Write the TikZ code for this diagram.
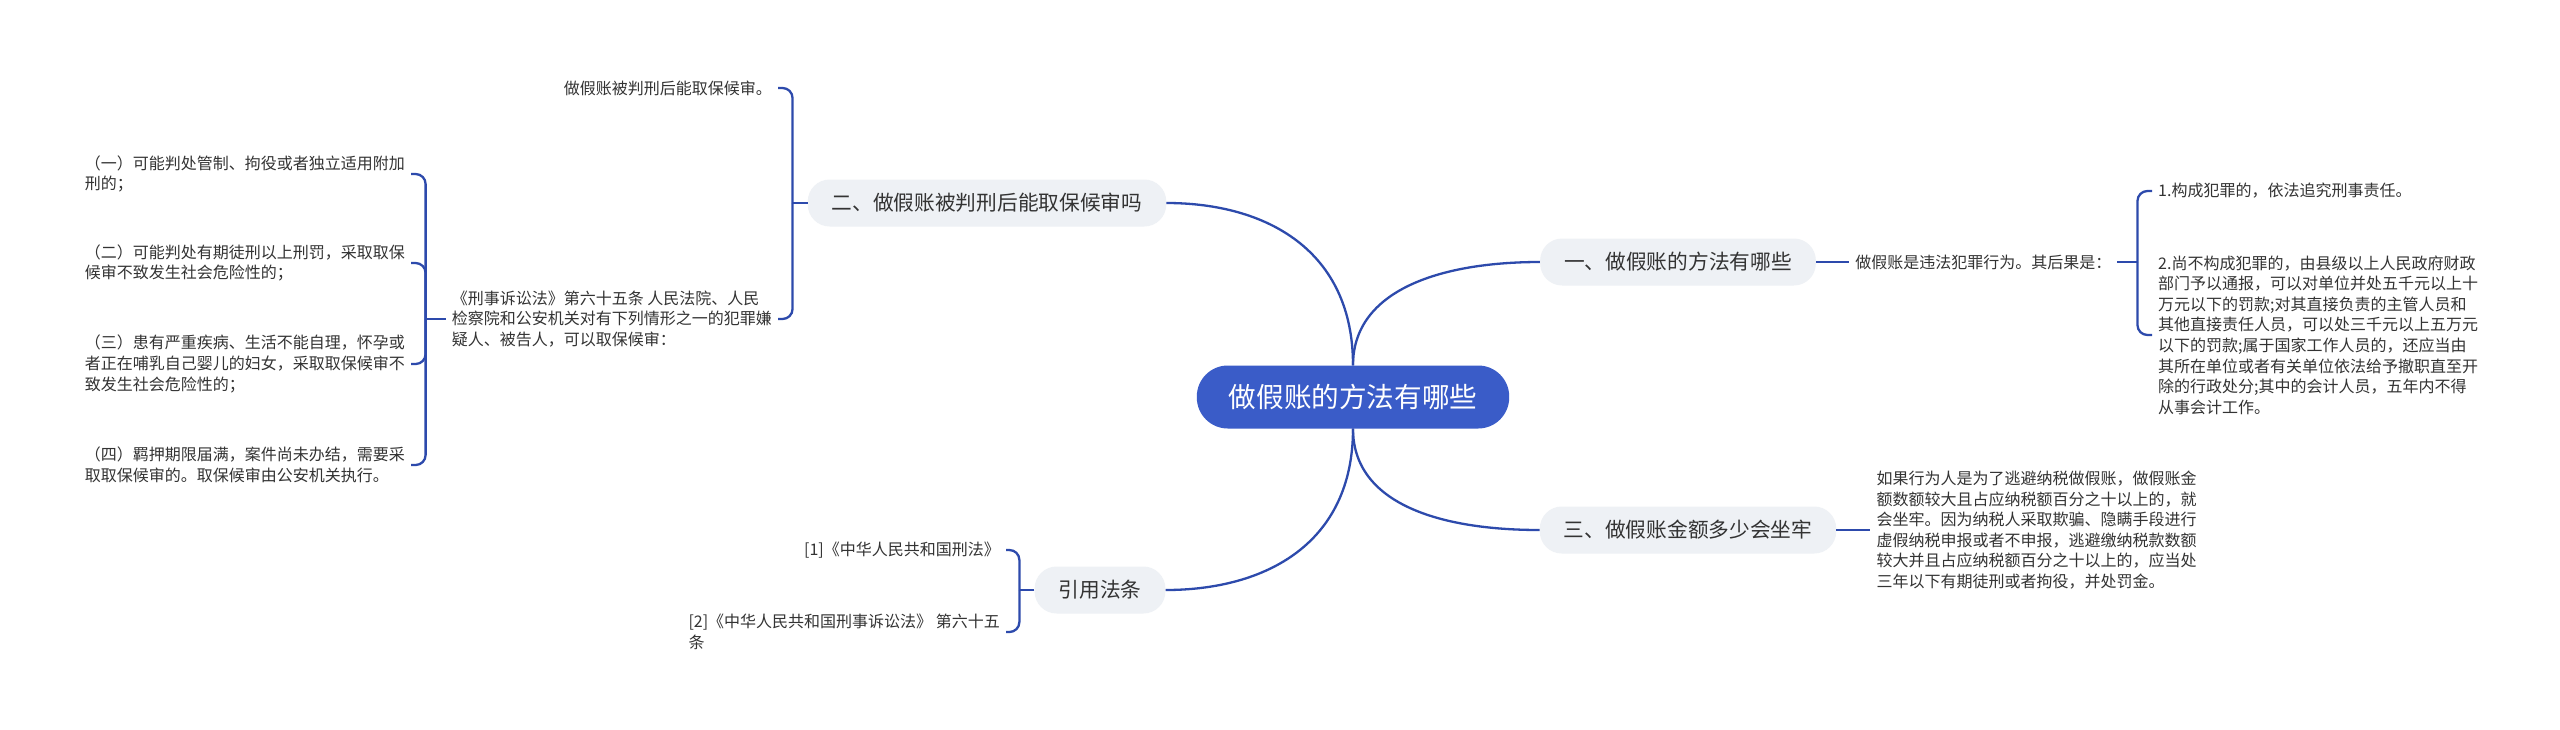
\documentclass[tikz,border=0pt]{standalone}
\usepackage{fontspec}
\usetikzlibrary{positioning}
\newfontfamily\cjk{Noto Sans CJK SC}
\definecolor{rootblue}{RGB}{58,92,200}
\definecolor{linkblue}{RGB}{45,74,172}
\definecolor{branchgray}{RGB}{238,241,245}
\definecolor{textgray}{RGB}{51,51,51}

\begin{document}
\begin{tikzpicture}[
    x=1pt, y=-1pt,
    root/.style={
        fill=rootblue,
        text=white,
        rounded corners=31pt,
        minimum height=63pt,
        inner xsep=32pt,
        font=\cjk\fontsize{27.6}{30}\selectfont
    },
    branch/.style={
        fill=branchgray,
        text=textgray,
        rounded corners=22pt,
        minimum height=47pt,
        inner xsep=24pt,
        font=\cjk\fontsize{20.7}{24}\selectfont
    },
    leaf/.style={
        text=textgray,
        align=left,
        inner xsep=6pt,
        inner ysep=2pt,
        font=\cjk\fontsize{16}{20.6}\selectfont
    },
    link/.style={
        draw=linkblue,
        line width=2.3pt
    },
    bracket/.style={
        link,
        rounded corners=10pt
    }
]

\useasboundingbox[fill=white] (0,0) rectangle (2560,729);

\node[root] (root) at (1353,397) {做假账的方法有哪些};

\node[branch] (b1) at (1678,262) {一、做假账的方法有哪些};
\node[branch] (b2) at (987,203) {二、做假账被判刑后能取保候审吗};
\node[branch] (b3) at (1688,530) {三、做假账金额多少会坐牢};
\node[branch] (b4) at (1100,590) {引用法条};

% branch one
\node[leaf, right=33pt of b1] (s1) {做假账是违法犯罪行为。其后果是：};
\coordinate[right=20pt of s1] (k1);
\node[leaf, anchor=west] (r1) at (2152,191) {1.构成犯罪的，依法追究刑事责任。};
\node[leaf, anchor=west] (r2) at (2152,335) {2.尚不构成犯罪的，由县级以上人民政府财政\\部门予以通报，可以对单位并处五千元以上十\\万元以下的罚款;对其直接负责的主管人员和\\其他直接责任人员，可以处三千元以上五万元\\以下的罚款;属于国家工作人员的，还应当由\\其所在单位或者有关单位依法给予撤职直至开\\除的行政处分;其中的会计人员，五年内不得\\从事会计工作。};

% branch two
\coordinate[left=15pt of b2] (k2);
\node[leaf, anchor=east] (t1) at (778,88) {做假账被判刑后能取保候审。};
\node[leaf, anchor=east] (law) at (778,319) {《刑事诉讼法》第六十五条 人民法院、人民\\检察院和公安机关对有下列情形之一的犯罪嫌\\疑人、被告人，可以取保候审：};
\coordinate[left=20pt of law] (k3);
\node[leaf, anchor=east] (l1) at (411,174) {（一）可能判处管制、拘役或者独立适用附加\\刑的；};
\node[leaf, anchor=east] (l2) at (411,263) {（二）可能判处有期徒刑以上刑罚，采取取保\\候审不致发生社会危险性的；};
\node[leaf, anchor=east] (l3) at (411,364) {（三）患有严重疾病、生活不能自理，怀孕或\\者正在哺乳自己婴儿的妇女，采取取保候审不\\致发生社会危险性的；};
\node[leaf, anchor=east] (l4) at (411,465) {（四）羁押期限届满，案件尚未办结，需要采\\取取保候审的。取保候审由公安机关执行。};

% branch three
\node[leaf, right=34pt of b3] (s3) {如果行为人是为了逃避纳税做假账，做假账金\\额数额较大且占应纳税额百分之十以上的，就\\会坐牢。因为纳税人采取欺骗、隐瞒手段进行\\虚假纳税申报或者不申报，逃避缴纳税款数额\\较大并且占应纳税额百分之十以上的，应当处\\三年以下有期徒刑或者拘役，并处罚金。};

% branch four
\coordinate[left=15pt of b4] (k4);
\node[leaf, anchor=east] (c1) at (1006,550) {[1]《中华人民共和国刑法》};
\node[leaf, anchor=east] (c2) at (1006,632) {[2]《中华人民共和国刑事诉讼法》 第六十五\\条};

\draw[link] (root.north) .. controls +(0,-75) and +(-100,0) .. (b1.west);
\draw[link] (root.north) .. controls +(0,-115) and +(100,0) .. (b2.east);
\draw[link] (root.south) .. controls +(0,75) and +(-100,0) .. (b3.west);
\draw[link] (root.south) .. controls +(0,115) and +(100,0) .. (b4.east);

\draw[link] (b1.east) -- (s1.west);
\draw[link] (s1.east) -- (k1);
\foreach \n in {r1,r2} \draw[bracket] (\n.west) -| (k1);

\draw[link] (b2.west) -- (k2);
\foreach \n in {t1,law} \draw[bracket] (\n.east) -| (k2);
\draw[link] (law.west) -- (k3);
\foreach \n in {l1,l2,l3,l4} \draw[bracket] (\n.east) -| (k3);

\draw[link] (b3.east) -- (s3.west);

\draw[link] (b4.west) -- (k4);
\foreach \n in {c1,c2} \draw[bracket] (\n.east) -| (k4);

\end{tikzpicture}
\end{document}
